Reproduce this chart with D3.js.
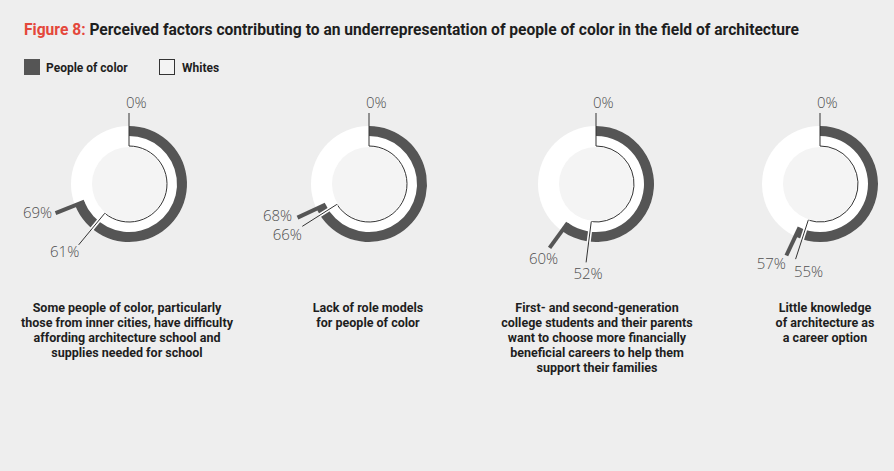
<!DOCTYPE html>
<html>
<head>
<meta charset="utf-8">
<script src="https://cdn.jsdelivr.net/npm/d3@7"></script>
<style>
    body { margin: 0; background: #eeeeee; }
    svg { display: block; font-family: Roboto, 'Liberation Sans', sans-serif; }
</style>
</head>
<body>
<div id="chart"></div>
<script>
// Data
const factorIds = ['cost', 'roleModels', 'careers', 'knowledge'];
const factorCaptions = [
    ['Some people of color, particularly', 'those from inner cities, have difficulty', 'affording architecture school and', 'supplies needed for school'],
    ['Lack of role models', 'for people of color'],
    ['First- and second-generation', 'college students and their parents', 'want to choose more financially', 'beneficial careers to help them', 'support their families'],
    ['Little knowledge', 'of architecture as', 'a career option']
];
const peopleOfColor = [69, 68, 60, 57];
const whites = [61, 66, 52, 55];
const seriesNames = ['People of color', 'Whites'];

// Layout
const width = 894, height = 471;
const cy = 184;
const rDisc = 58, rDarkIn = 48, rThin = 38, rInner = 37, rLead = 79, rTop = 71;
// label nudges relative to leader end: [people of color, whites]
const labelNudge = [
    [[-18, 0], [-14, 7]],
    [[-20, -2], [-15, 8.5]],
    [[-6, 11], [2, 11]],
    [[-15, 8], [13, 12]]
];

const colors = {
    bg: '#eeeeee',
    dark: '#555555',
    line: '#333333',
    label: '#505050',
    red: '#e4473b',
    text: '#1e1e1e'
};

const x = d3.scaleOrdinal().domain(factorIds).range([129, 369, 596, 820]);
const captionX = d3.scaleOrdinal().domain(factorIds).range([127, 368, 597, 825]);
const angle = d3.scaleLinear().domain([0, 100]).range([0, 2 * Math.PI]);

const svg = d3.select('#chart').append('svg')
    .attr('width', width)
    .attr('height', height)
    .attr('viewBox', [0, 0, width, height]);

svg.append('rect').attr('width', width).attr('height', height).attr('fill', colors.bg);

// Title
const title = svg.append('text')
    .attr('x', 24).attr('y', 35)
    .attr('font-size', 15.6).attr('font-weight', 700)
    .attr('fill', colors.text);
title.append('tspan').attr('fill', colors.red).text('Figure 8:');
title.append('tspan').text(' Perceived factors contributing to an underrepresentation of people of color in the field of architecture');

// Legend
const legend = svg.append('g').attr('font-size', 12).attr('font-weight', 700).attr('fill', colors.text);
legend.append('rect').attr('x', 24).attr('y', 59).attr('width', 16).attr('height', 16).attr('fill', colors.dark);
legend.append('text').attr('x', 46).attr('y', 72).text(seriesNames[0]);
legend.append('rect').attr('x', 159.5).attr('y', 59.5).attr('width', 15).attr('height', 15)
    .attr('fill', '#f3f3f3').attr('stroke', colors.line).attr('stroke-width', 1);
legend.append('text').attr('x', 182).attr('y', 72).text(seriesNames[1]);

const rows = factorIds.map((id, i) => ({
    id,
    caption: factorCaptions[i],
    poc: peopleOfColor[i],
    white: whites[i],
    nudge: labelNudge[i]
}));

const donut = svg.append('g').selectAll('g')
    .data(rows)
    .join('g')
    .attr('transform', d => `translate(${x(d.id)},${cy})`);

// white disc
donut.append('circle').attr('r', rDisc).attr('fill', '#ffffff');

// people of color arc
donut.append('path')
    .attr('fill', colors.dark)
    .attr('d', d => d3.arc()({ innerRadius: rDarkIn, outerRadius: rDisc, startAngle: 0, endAngle: angle(d.poc) }));

// people of color leader
donut.append('line')
    .attr('stroke', colors.dark)
    .attr('stroke-width', 4)
    .attr('x1', d => d3.pointRadial(angle(d.poc), rDarkIn)[0])
    .attr('y1', d => d3.pointRadial(angle(d.poc), rDarkIn)[1])
    .attr('x2', d => d3.pointRadial(angle(d.poc), rLead)[0])
    .attr('y2', d => d3.pointRadial(angle(d.poc), rLead)[1]);

// inner disc
donut.append('circle').attr('r', rInner).attr('fill', '#f4f4f4');

// whites arc
donut.append('path')
    .attr('fill', 'none')
    .attr('stroke', colors.line)
    .attr('stroke-width', 1)
    .attr('d', d => {
        const p = d3.path();
        p.arc(0, 0, rThin, angle(0) - Math.PI / 2, angle(d.white) - Math.PI / 2);
        return p.toString();
    });

// whites leader with white halo where it crosses the dark ring
donut.append('line')
    .attr('stroke', '#ffffff')
    .attr('stroke-width', 4)
    .attr('x1', d => d3.pointRadial(angle(d.white), rThin)[0])
    .attr('y1', d => d3.pointRadial(angle(d.white), rThin)[1])
    .attr('x2', d => d3.pointRadial(angle(d.white), rDisc + 1)[0])
    .attr('y2', d => d3.pointRadial(angle(d.white), rDisc + 1)[1]);
donut.append('line')
    .attr('stroke', colors.line)
    .attr('stroke-width', 1)
    .attr('x1', d => d3.pointRadial(angle(d.white), rThin)[0])
    .attr('y1', d => d3.pointRadial(angle(d.white), rThin)[1])
    .attr('x2', d => d3.pointRadial(angle(d.white), rLead)[0])
    .attr('y2', d => d3.pointRadial(angle(d.white), rLead)[1]);

// 0% marker
donut.append('line')
    .attr('stroke', colors.line)
    .attr('stroke-width', 1)
    .attr('x1', d3.pointRadial(angle(0), rThin)[0])
    .attr('y1', d3.pointRadial(angle(0), rThin)[1])
    .attr('x2', d3.pointRadial(angle(0), rTop)[0])
    .attr('y2', d3.pointRadial(angle(0), rTop)[1]);

const valueText = sel => sel
    .attr('font-family', "'Open Sans', sans-serif")
    .attr('font-weight', 300)
    .attr('font-size', 15)
    .attr('fill', colors.label)
    .attr('text-anchor', 'middle')
    .attr('dy', '0.36em');

donut.append('text')
    .call(valueText)
    .attr('text-anchor', 'start')
    .attr('dy', null)
    .attr('x', -3)
    .attr('y', -cy + 108)
    .text('0%');

donut.append('text')
    .call(valueText)
    .attr('x', d => d3.pointRadial(angle(d.poc), rLead)[0] + d.nudge[0][0])
    .attr('y', d => d3.pointRadial(angle(d.poc), rLead)[1] + d.nudge[0][1])
    .text(d => d.poc + '%');

donut.append('text')
    .call(valueText)
    .attr('x', d => d3.pointRadial(angle(d.white), rLead)[0] + d.nudge[1][0])
    .attr('y', d => d3.pointRadial(angle(d.white), rLead)[1] + d.nudge[1][1])
    .text(d => d.white + '%');

// Captions
svg.append('g').selectAll('text')
    .data(rows)
    .join('text')
    .attr('font-size', 12.5)
    .attr('font-weight', 700)
    .attr('fill', colors.text)
    .attr('text-anchor', 'middle')
    .attr('x', d => captionX(d.id))
    .attr('y', 312)
    .selectAll('tspan')
    .data(d => d.caption.map(line => ({ line, cx: captionX(d.id) })))
    .join('tspan')
    .attr('x', d => d.cx)
    .attr('dy', (d, i) => i === 0 ? 0 : 15)
    .text(d => d.line);
</script>
</body>
</html>
